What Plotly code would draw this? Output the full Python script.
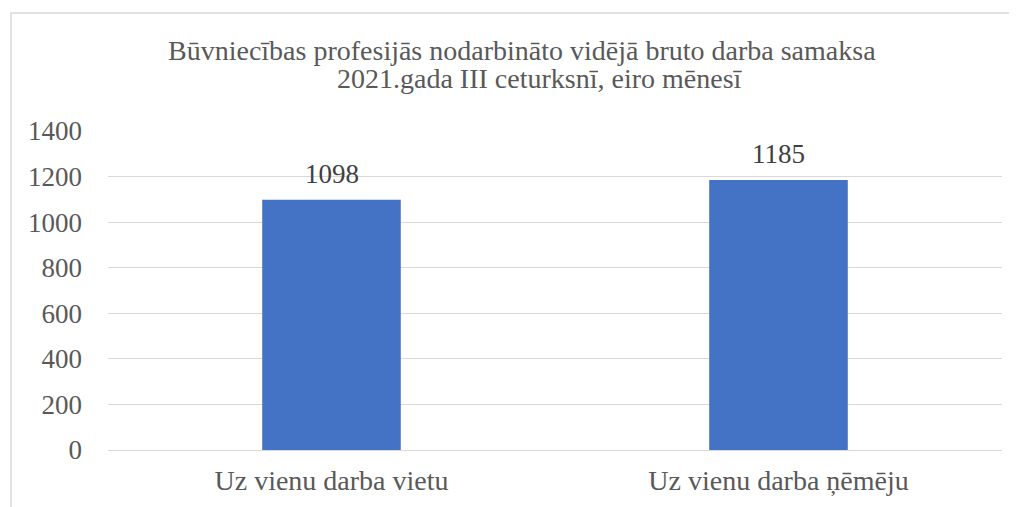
import plotly.graph_objects as go

categories = ["Uz vienu darba vietu", "Uz vienu darba ņēmēju"]
values = [1098, 1185]
tick_vals = [0, 200, 400, 600, 800, 1000, 1200, 1400]
title_lines = ["Būvniecības profesijās nodarbināto vidējā bruto darba samaksa",
               "2021.gada III ceturksnī, eiro mēnesī"]

FONT = "Liberation Serif"
GRAY = "#595959"

# page has an 8px body margin; figure sized/offset to compensate
W, H = 1009, 499

fig = go.Figure()
fig.add_trace(go.Bar(
    x=categories, y=values,
    marker=dict(color="#4472C4", line=dict(width=0)),
    width=0.31,
    hoverinfo="skip",
))

for c, v in zip(categories, values):
    fig.add_annotation(x=c, y=v, text=str(v), showarrow=False,
                       yanchor="bottom", yshift=9,
                       font=dict(family=FONT, size=27, color="#404040"))

# two-line title
for line, xp, yp in zip(title_lines, [0.463, 0.4832], [1.197, 1.111]):
    fig.add_annotation(xref="paper", yref="paper", x=xp, y=yp, text=line,
                       showarrow=False, xanchor="center", yanchor="bottom",
                       font=dict(family=FONT, size=28, color=GRAY))

fig.add_shape(type="rect", xref="paper", yref="paper",
              x0=-0.1085, x1=1.2, y0=-0.3, y1=1.3699,
              line=dict(color="#D9D9D9", width=1.5), layer="below")

fig.update_layout(
    width=W, height=H,
    margin=dict(l=100, r=15, t=123, b=57, autoexpand=False),
    paper_bgcolor="white", plot_bgcolor="white",
    font=dict(family=FONT, size=27, color=GRAY),
    showlegend=False,
    bargap=0.69,
    xaxis=dict(showgrid=False, showline=False, ticks="", automargin=False,
               ticklabelstandoff=11,
               tickfont=dict(family=FONT, size=28, color=GRAY)),
    yaxis=dict(range=[0, 1400], tickvals=tick_vals, showgrid=True,
               gridcolor="#D9D9D9", gridwidth=1, zeroline=True,
               zerolinecolor="#D9D9D9", zerolinewidth=1, showline=False,
               ticks="", ticklabelstandoff=25, automargin=False,
               tickfont=dict(family=FONT, size=27, color=GRAY)),
)

fig.write_html("out.html")
